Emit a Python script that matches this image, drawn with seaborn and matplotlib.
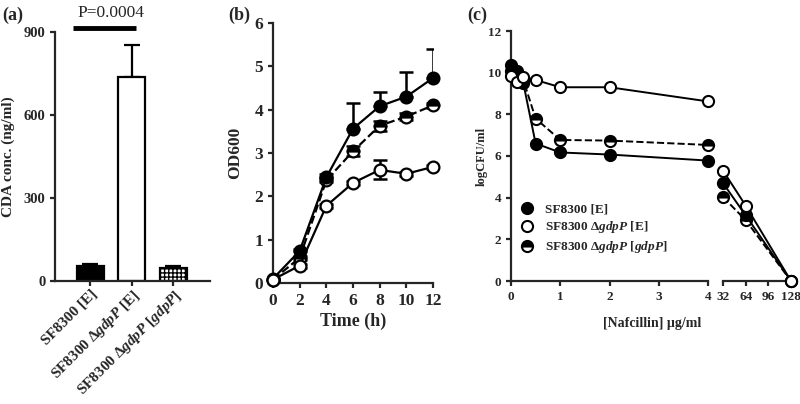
import numpy as np
import pandas as pd
import seaborn as sns
import matplotlib.pyplot as plt
from matplotlib.lines import Line2D

# -----------------------------
# Data
# -----------------------------

# (a) CDA concentration
strains = ["SF8300 [E]", "SF8300 Δ$gdpP$ [E]", "SF8300 Δ$gdpP$ [$gdpP$]"]
cda_conc = [54, 738, 46]
cda_err = [8, 115, 9]

# (b) growth curves
time_h = [0, 2, 4, 6, 8, 10, 12]
od_wt = [0.10, 0.74, 2.44, 3.56, 4.08, 4.30, 4.73]
od_wt_err = [0.02, 0.05, 0.08, 0.60, 0.32, 0.56, 0.66]
od_del = [0.08, 0.40, 1.78, 2.31, 2.61, 2.52, 2.68]
od_del_err = [0.02, 0.05, 0.05, 0.05, 0.22, 0.05, 0.05]
od_comp = [0.08, 0.58, 2.37, 3.04, 3.63, 3.84, 4.10]
od_comp_err = [0.02, 0.05, 0.05, 0.12, 0.12, 0.08, 0.05]

# (c) nafcillin killing, broken x axis
conc_low = [0, 0.125, 0.25, 0.5, 1, 2, 4]
conc_high = [32, 64, 128]
cfu_wt_low = [10.35, 10.1, 9.5, 6.6, 6.17, 6.07, 5.78]
cfu_wt_high = [4.7, 3.15, 0.0]
cfu_del_low = [9.85, 9.55, 9.8, 9.65, 9.3, 9.3, 8.62]
cfu_del_high = [5.3, 3.62, 0.0]
cfu_comp_low = [10.1, 9.8, 9.65, 7.8, 6.77, 6.74, 6.53]
cfu_comp_high = [4.03, 2.92, 0.0]

# -----------------------------
# Style
# -----------------------------
sns.set_style("ticks")
plt.rcParams['font.family'] = ['Liberation Serif', 'DejaVu Serif']
plt.rcParams['font.weight'] = 'bold'
plt.rcParams['axes.labelweight'] = 'bold'
plt.rcParams['mathtext.fontset'] = 'custom'
plt.rcParams['mathtext.rm'] = 'Liberation Serif:bold'
plt.rcParams['mathtext.it'] = 'Liberation Serif:italic:bold'
plt.rcParams['mathtext.bf'] = 'Liberation Serif:bold'
plt.rcParams['axes.linewidth'] = 1.6
plt.rcParams['xtick.major.width'] = 1.6
plt.rcParams['ytick.major.width'] = 1.6
plt.rcParams['xtick.major.size'] = 3.5
plt.rcParams['ytick.major.size'] = 3.5

W, H = 800, 404
fig = plt.figure(figsize=(8, 4.04), dpi=100)


def box(l, r, t, b):
    return [l / W, 1 - b / H, (r - l) / W, (b - t) / H]


# -----------------------------
# (a) bar chart
# -----------------------------
ax1 = fig.add_axes(box(55, 210, 32, 281))
df_a = pd.DataFrame({"strain": strains, "conc": cda_conc})
sns.barplot(data=df_a, x="strain", y="conc", ax=ax1, width=0.65,
            color="white", edgecolor="black", linewidth=1.6, errorbar=None)
bars = ax1.patches
bars[0].set_facecolor("black")
bars[2].set_hatch("++++")
xs = np.arange(len(strains))
ax1.errorbar(xs, cda_conc, yerr=[np.zeros(3), cda_err], fmt="none",
             ecolor="black", elinewidth=1.6, capsize=6, capthick=1.6, zorder=0)
ax1.set_xlim(-0.855, 2.89)
ax1.set_ylim(0, 900)
ax1.set_yticks([0, 300, 600, 900])
ax1.set_xlabel("")
ax1.set_ylabel("CDA conc. (ng/ml)", fontsize=11, labelpad=6)
ax1.set_xticks(xs)
ax1.set_xticklabels(strains, rotation=45, ha="right", rotation_mode="anchor",
                    fontsize=11)
ax1.tick_params(axis="x", pad=1)
ax1.tick_params(axis="y", labelsize=10.5)
sns.despine(ax=ax1)
# significance bar
ax1.plot([-0.43, 1.1], [915, 915], color="black", lw=3.5, clip_on=False,
         solid_capstyle="butt")
ax1.text(0.5, 968, "P=0.0004", ha="center", va="center", fontsize=12.5,
         fontweight="normal")
fig.text(2 / W, 1 - 15 / H, "(a)", fontsize=13, va="center", ha="left")

# -----------------------------
# (b) growth curves
# -----------------------------
ax2 = fig.add_axes(box(273, 433, 23, 283))
ms_b = 8.5
common = dict(color="black", lw=1.6, markeredgewidth=1.6, markersize=ms_b,
              marker="o", clip_on=False)
sns.lineplot(x=time_h, y=od_comp, ax=ax2, linestyle="--", fillstyle="top",
             markerfacecolor="black", markerfacecoloralt="white",
             markeredgecolor="black", zorder=3, **common)
sns.lineplot(x=time_h, y=od_wt, ax=ax2, markerfacecolor="black",
             markeredgecolor="black", zorder=4, **common)
sns.lineplot(x=time_h, y=od_del, ax=ax2, markerfacecolor="white",
             markeredgecolor="black", zorder=5, **common)
ax2.errorbar(time_h, od_wt, yerr=[np.zeros(7), od_wt_err], fmt="none",
             ecolor="black", elinewidth=1.8, capsize=5, capthick=1.8, zorder=2)
ax2.errorbar(time_h, od_del, yerr=od_del_err, fmt="none",
             ecolor="black", elinewidth=1.8, capsize=5, capthick=1.8, zorder=2)
ax2.errorbar(time_h, od_comp, yerr=od_comp_err, fmt="none",
             ecolor="black", elinewidth=1.8, capsize=5, capthick=1.8, zorder=2)
ax2.set_xlim(0, 12)
ax2.set_ylim(0, 6)
ax2.set_xticks(time_h)
ax2.set_yticks([0, 1, 2, 3, 4, 5, 6])
ax2.set_xlabel("Time (h)", fontsize=13, labelpad=3)
ax2.set_ylabel("OD600", fontsize=12.5, labelpad=8)
ax2.tick_params(labelsize=12.5)
sns.despine(ax=ax2)
fig.text(228 / W, 1 - 15 / H, "(b)", fontsize=13, va="center", ha="left")

# -----------------------------
# (c) nafcillin, broken axis
# -----------------------------
ax3 = fig.add_axes(box(511, 708, 31, 281))
ax4 = fig.add_axes(box(723, 791, 31, 281))
ms_c = 8
cc = dict(color="black", lw=1.4, markeredgewidth=1.5, markersize=ms_c,
          marker="o", clip_on=False)
for ax, cx, wt, dl, cp in [(ax3, conc_low, cfu_wt_low, cfu_del_low, cfu_comp_low),
                           (ax4, conc_high, cfu_wt_high, cfu_del_high, cfu_comp_high)]:
    sns.lineplot(x=cx, y=cp, ax=ax, linestyle="--", fillstyle="top",
                 markerfacecolor="black", markerfacecoloralt="white",
                 markeredgecolor="black", zorder=3, **cc)
    sns.lineplot(x=cx, y=wt, ax=ax, markerfacecolor="black",
                 markeredgecolor="black", zorder=4, **cc)
    sns.lineplot(x=cx, y=dl, ax=ax, markerfacecolor="white",
                 markeredgecolor="black", zorder=5, **cc)
    ax.set_ylim(0, 12)
    ax.tick_params(labelsize=9.5)

ax3.set_xlim(0, 4)
ax3.set_xticks([0, 1, 2, 3, 4])
ax3.set_yticks([0, 2, 4, 6, 8, 10, 12])
ax3.set_xticks([4], minor=True)
ax3.tick_params(axis="x", which="minor", direction="inout", length=8, width=1.6)
ax3.set_ylabel("logCFU/ml", fontsize=9, labelpad=0)
sns.despine(ax=ax3)

ax4.set_xlim(32, 128)
ax4.set_xticks([32, 64, 96, 128])
ax4.set_xticks([32], minor=True)
ax4.tick_params(axis="x", which="minor", direction="inout", length=8, width=1.6)
ax4.set_yticks([])
ax4.set_ylabel("")
sns.despine(ax=ax4, left=True)

fig.text(652 / W, 1 - 323 / H, "[Nafcillin] µg/ml", fontsize=10,
         ha="center", va="center")
fig.text(467 / W, 1 - 15 / H, "(c)", fontsize=13, va="center", ha="left")

handles = [
    Line2D([], [], linestyle="none", marker="o", markersize=ms_c,
           markerfacecolor="black", markeredgecolor="black", markeredgewidth=1.5),
    Line2D([], [], linestyle="none", marker="o", markersize=ms_c,
           markerfacecolor="white", markeredgecolor="black", markeredgewidth=1.5),
    Line2D([], [], linestyle="none", marker="o", markersize=ms_c, fillstyle="top",
           markerfacecolor="black", markerfacecoloralt="white",
           markeredgecolor="black", markeredgewidth=1.5),
]
ax3.legend(handles, strains, loc="upper left",
           bbox_to_anchor=((520 - 511) / 197, (281 - 203) / 250),
           frameon=False, fontsize=9.5, handlelength=1.0, handletextpad=0.9,
           labelspacing=0.3, borderaxespad=0, borderpad=0)

fig.savefig("out.png", dpi=100)
